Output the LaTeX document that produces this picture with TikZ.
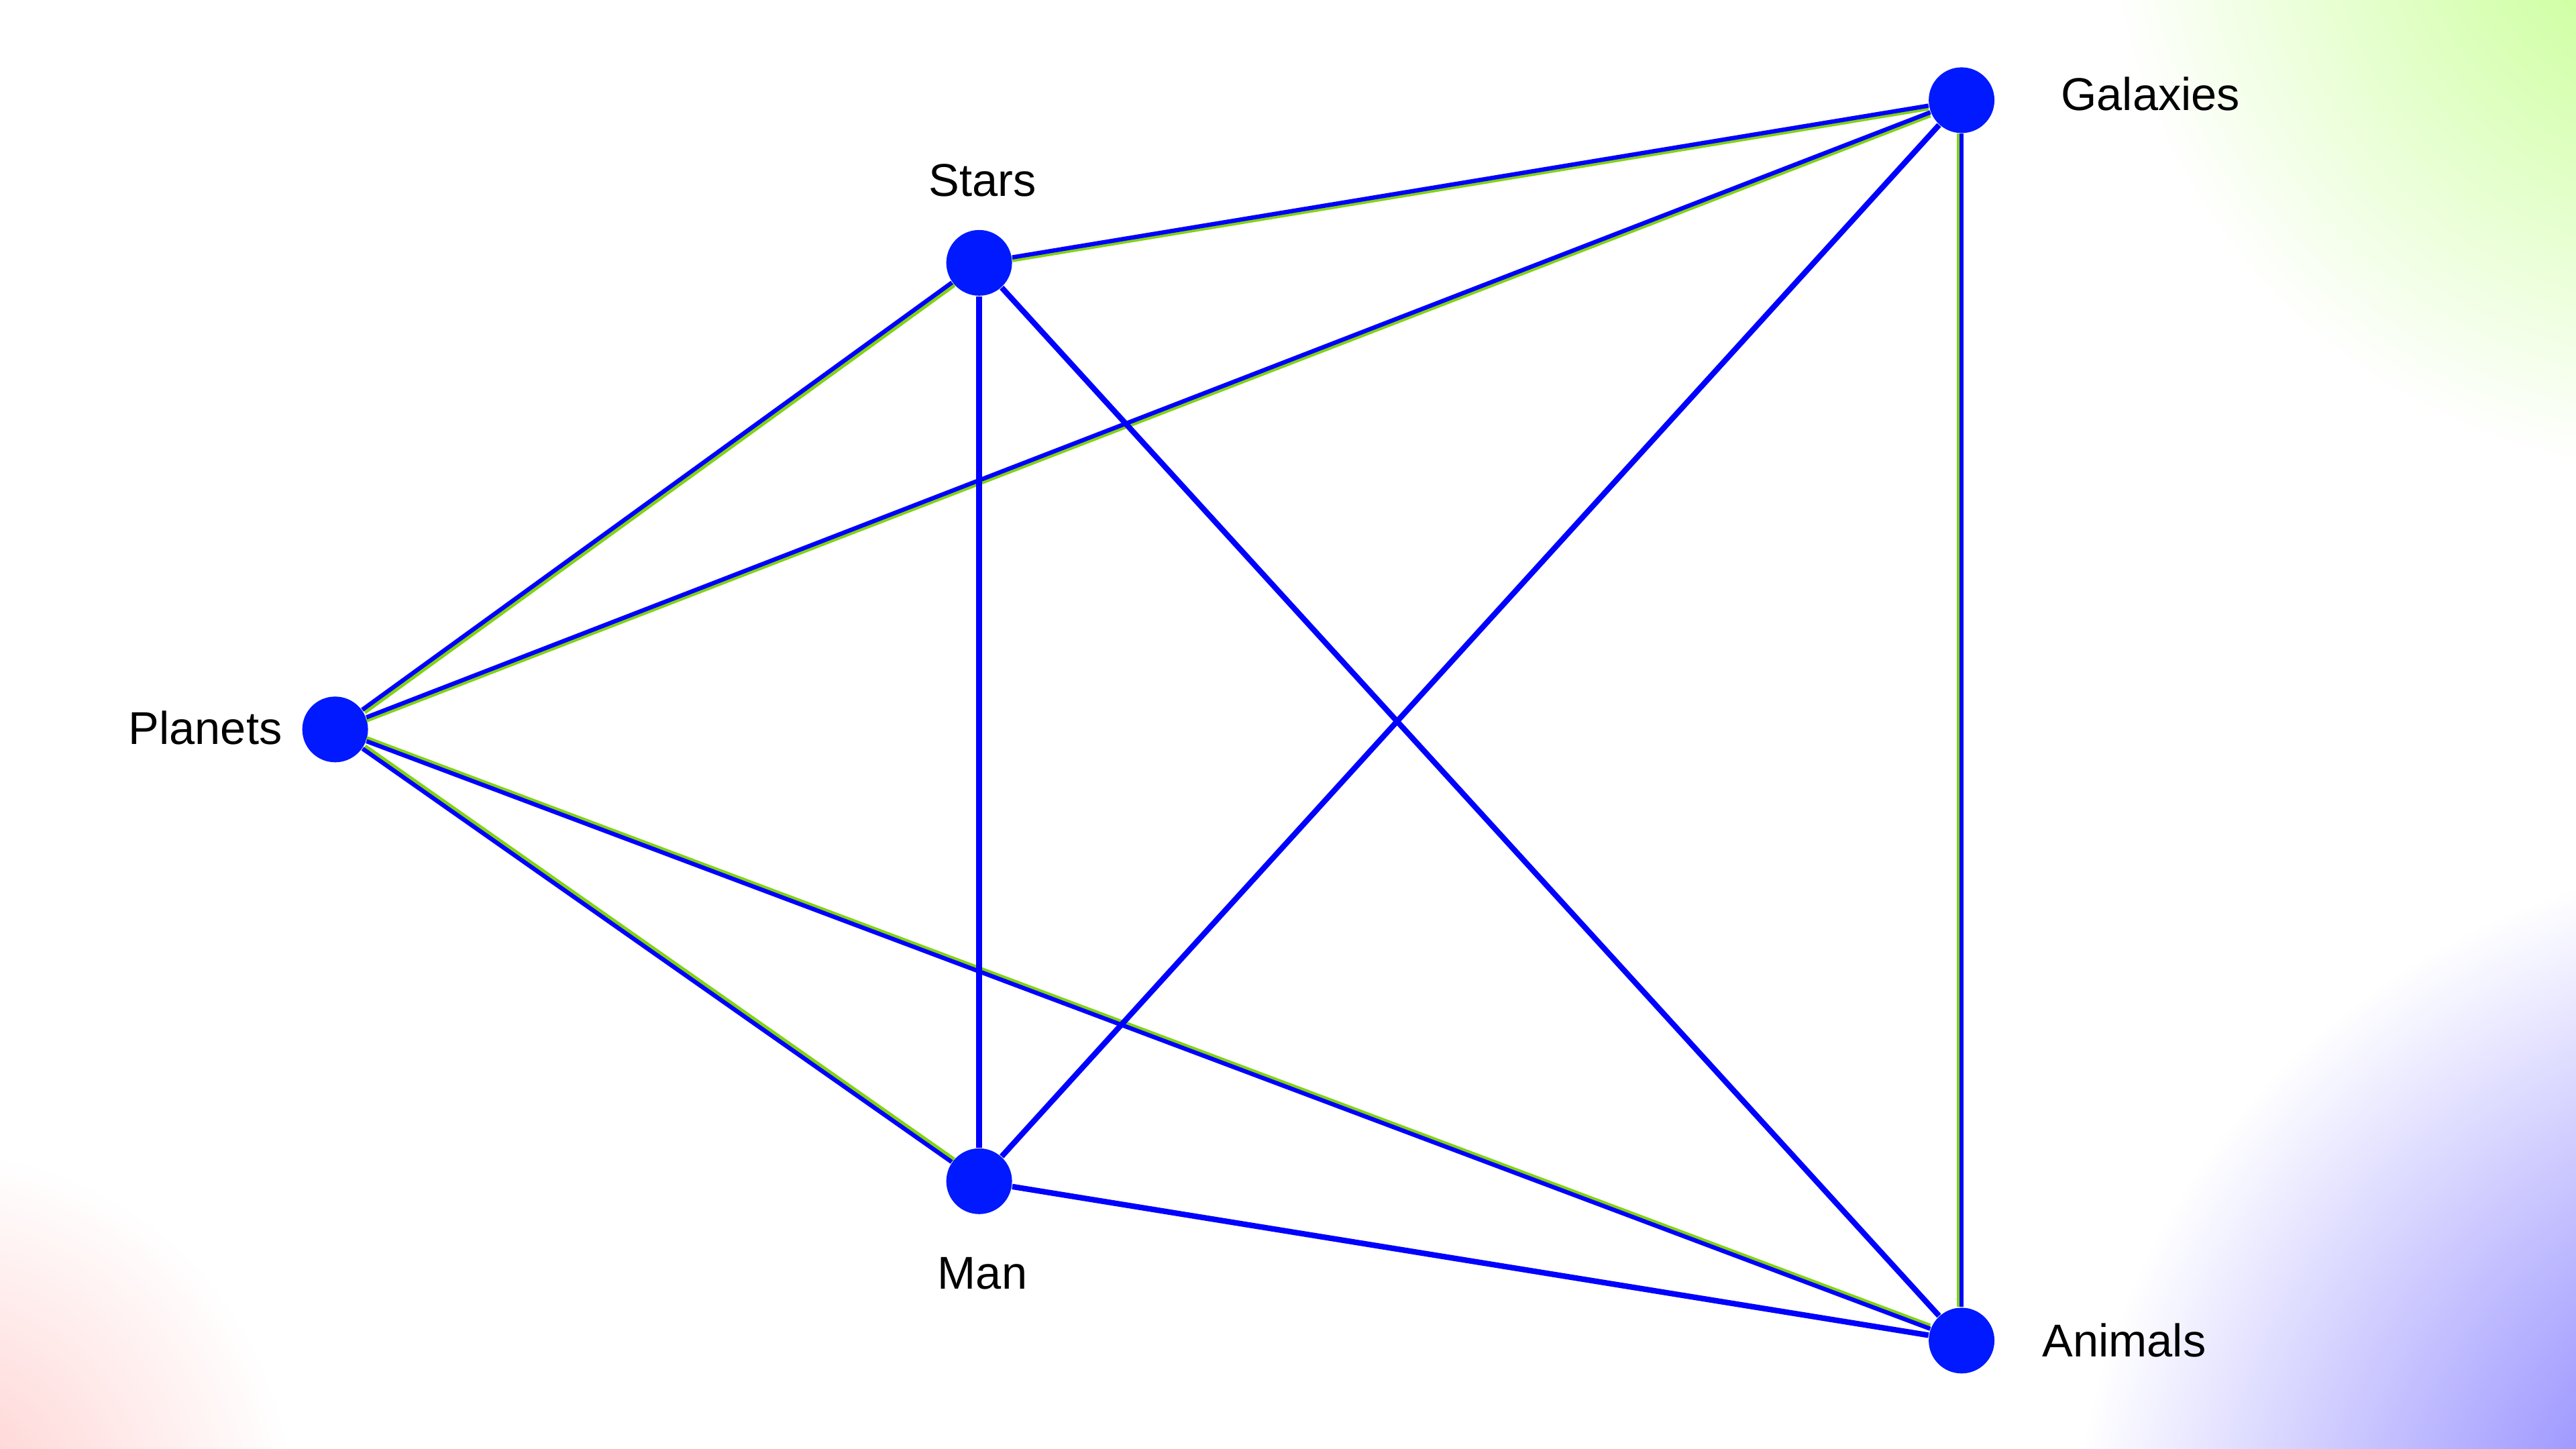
\documentclass[tikz,border=0pt]{standalone}
\usepackage{fontspec}
\setmainfont{Liberation Sans}
\definecolor{nodeblue}{RGB}{0,25,255}
\definecolor{edgeblue}{RGB}{0,0,255}
\definecolor{edgegreen}{RGB}{130,210,20}
\tikzset{
  dot/.style={circle,fill=nodeblue,inner sep=0pt,minimum size=20pt},
  lbl/.style={font=\fontsize{14}{16}\selectfont},
  edge/.style={draw=edgeblue,line width=1.7},
  glow/.style={draw=edgegreen,line width=1.3}
}
\begin{document}
\begin{tikzpicture}[x=0.5pt,y=0.5pt,yscale=-1]
    % background
    \clip (0,0) rectangle (1568,882);
    \fill[white] (0,0) rectangle (1568,882);
    \shade[inner color={rgb,255:red,190;green,255;blue,130},outer color=white] (1640,-70) circle (360);
    \shade[inner color={rgb,255:red,110;green,100;blue,255},outer color=white] (1700,960) circle (440);
    \shade[inner color={rgb,255:red,255;green,205;blue,205},outer color=white] (-40,920) circle (220);

    % nodes
    \node[dot] (stars) at (596,160) {};
    \node[dot] (galaxies) at (1194,61) {};
    \node[dot] (planets) at (204,444) {};
    \node[dot] (man) at (596,719) {};
    \node[dot] (animals) at (1194,816) {};

    % labels
    \node[lbl] (starslbl) at (598,110) {Stars};
    \node[lbl] (galaxieslbl) at (1309,57) {Galaxies};
    \node[lbl] (planetslbl) at (125,443) {Planets};
    \node[lbl] (manlbl) at (598,775) {Man};
    \node[lbl] (animalslbl) at (1293,816) {Animals};

    % green halves
    \draw[glow,transform canvas={yshift=-0.8}] (stars) -- (galaxies);
    \draw[glow,transform canvas={xshift=0.7,yshift=-0.7}] (planets) -- (stars);
    \draw[glow,transform canvas={yshift=-0.9}] (planets) -- (galaxies);
    \draw[glow,transform canvas={xshift=-0.9}] (galaxies) -- (animals);
    \draw[glow,transform canvas={xshift=0.7,yshift=0.7}] (planets) -- (man);
    \draw[glow,transform canvas={yshift=0.9}] (planets) -- (animals);

    % edges
    \foreach \a/\b in {stars/galaxies,planets/stars,planets/galaxies,galaxies/animals,planets/man,planets/animals}
        \draw[edge,line width=1.3] (\a) -- (\b);
    \foreach \a/\b in {stars/man,stars/animals,galaxies/man,man/animals}
        \draw[edge] (\a) -- (\b);
\end{tikzpicture}
\end{document}
